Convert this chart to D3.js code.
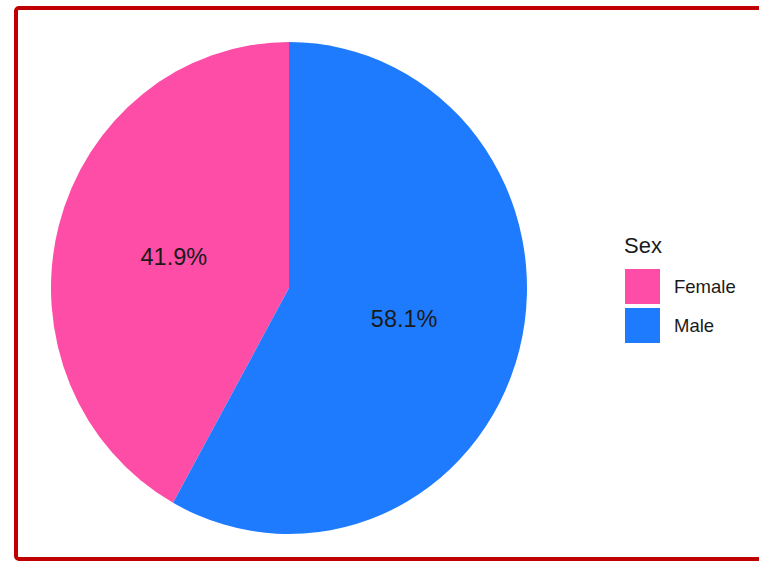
<!DOCTYPE html>
<html>
<head>
<meta charset="utf-8">
<script src="https://cdn.jsdelivr.net/npm/d3@7"></script>
<style>
	body { margin: 0; background: #fff; }
	svg { display: block; font-family: "Liberation Sans", Arial, sans-serif; }
</style>
</head>
<body>
<svg id="canvas"></svg>
<script>
const WIDTH = 759,
	HEIGHT = 561,
	RADIUS = 238,
	Y_STRETCH = 246 / 238; // picture is a little taller than wide

// data
const categories = ['Female', 'Male'],
	values = [41.9, 58.1],
	colors = ['#fd4da6', '#1f7bfd'];

const svgCanvas = d3.select('svg#canvas')
	.attr('width', WIDTH)
	.attr('height', HEIGHT);

// red frame, right side runs off the picture
svgCanvas.append('rect')
	.attr('x', 16)
	.attr('y', 8)
	.attr('width', WIDTH + 20)
	.attr('height', 551)
	.attr('rx', 3)
	.attr('fill', 'none')
	.attr('stroke', '#c00000')
	.attr('stroke-width', 4);

const color = d3.scaleOrdinal().domain(categories).range(colors);

const slices = categories.map((c, i) => ({ sex: c, value: values[i] }));

// male starts at 12 o'clock clockwise, female follows and closes back at the top
const pie = d3.pie()
	.sort(null)
	.value(d => d.value)
	.startAngle(-2 * Math.PI * values[0] / 100)
	.endAngle(2 * Math.PI - 2 * Math.PI * values[0] / 100);

const arc = d3.arc().innerRadius(0).outerRadius(RADIUS),
	labelArc = d3.arc().innerRadius(RADIUS / 2).outerRadius(RADIUS / 2);

const pieG = svgCanvas.append('g')
	.attr('transform', 'translate(289,288)');

const arcs = pie(slices);

pieG.append('g')
	.attr('transform', 'scale(1,' + Y_STRETCH + ')')
	.selectAll('path.slice')
	.data(arcs)
	.enter().append('path')
	.classed('slice', true)
	.attr('d', arc)
	.attr('fill', d => color(d.data.sex));

pieG.selectAll('text.pct')
	.data(arcs)
	.enter().append('text')
	.classed('pct', true)
	.attr('transform', d => {
		const [x, y] = labelArc.centroid(d);
		return 'translate(' + x + ',' + (y * Y_STRETCH) + ')';
	})
	.attr('text-anchor', 'middle')
	.attr('dy', '0.35em')
	.attr('font-size', 23.5)
	.attr('fill', '#1a1a1a')
	.text(d => d.data.value.toFixed(1) + '%');

// legend
const legendG = svgCanvas.append('g')
	.attr('transform', 'translate(625,0)');

legendG.append('text')
	.attr('x', -1)
	.attr('y', 253)
	.attr('font-size', 22)
	.attr('fill', '#1a1a1a')
	.text('Sex');

const item = legendG.selectAll('g.item')
	.data(categories)
	.enter().append('g')
	.classed('item', true)
	.attr('transform', (d, i) => 'translate(0,' + (269 + i * 39) + ')');

item.append('rect')
	.attr('width', 35)
	.attr('height', 35)
	.attr('fill', d => color(d));

item.append('text')
	.attr('x', 49)
	.attr('y', 18)
	.attr('dy', '0.35em')
	.attr('font-size', 18.5)
	.attr('fill', '#1a1a1a')
	.text(d => d);
</script>
</body>
</html>
